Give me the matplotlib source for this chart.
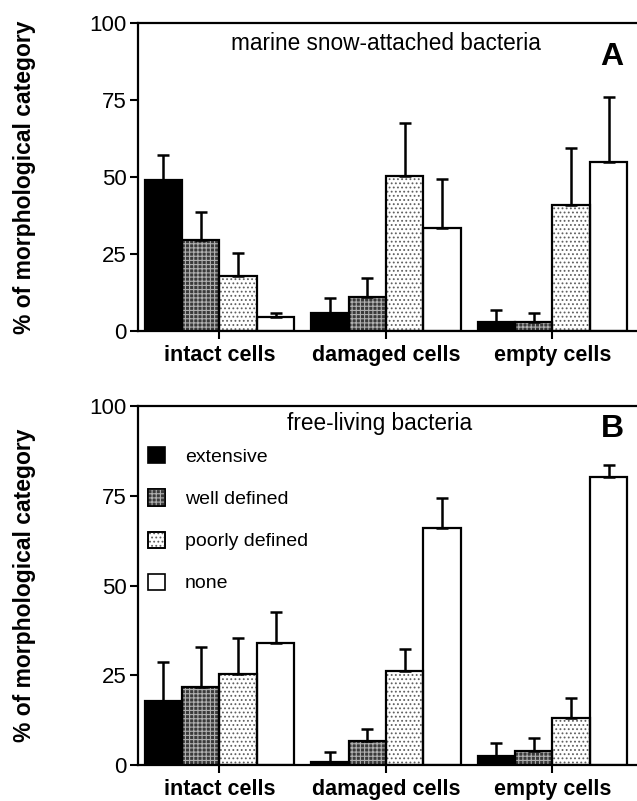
import matplotlib
matplotlib.use("Agg")
import matplotlib.pyplot as plt
from matplotlib.patches import Patch
import numpy as np

plt.rcParams['font.family'] = ['Liberation Sans', 'DejaVu Sans']
plt.rcParams['hatch.linewidth'] = 0.8

# ---- data ----
groups = ["intact cells", "damaged cells", "empty cells"]
series = ["extensive", "well defined", "poorly defined", "none"]

# Panel A: marine snow-attached bacteria (mean, upper SD)
a_extensive = [49.0, 5.8, 2.8]
a_well = [29.5, 11.1, 2.8]
a_poorly = [18.0, 50.3, 40.9]
a_none = [4.6, 33.5, 54.8]
a_extensive_sd = [8.0, 5.0, 4.0]
a_well_sd = [9.2, 6.2, 3.0]
a_poorly_sd = [7.3, 17.3, 18.4]
a_none_sd = [1.4, 15.9, 21.2]

# Panel B: free-living bacteria
b_extensive = [17.9, 0.8, 2.5]
b_well = [21.8, 6.7, 3.9]
b_poorly = [25.3, 26.2, 13.0]
b_none = [33.9, 66.0, 80.1]
b_extensive_sd = [10.9, 2.9, 3.6]
b_well_sd = [11.2, 3.2, 3.6]
b_poorly_sd = [10.0, 6.0, 5.7]
b_none_sd = [8.8, 8.5, 3.5]

yticks = [0, 25, 50, 75, 100]

# ---- styles ----
styles = [
    dict(face="black", hatch=None, hcol=None),
    dict(face="#3a3a3a", hatch="++++", hcol="#b0b0b0"),
    dict(face="white", hatch="....", hcol="#606060"),
    dict(face="white", hatch=None, hcol=None),
]

W, H = 637, 801
fig = plt.figure(figsize=(W / 100, H / 100), dpi=100)

def px_axes(left, top, right, bottom):
    return fig.add_axes([left / W, 1 - bottom / H, (right - left) / W, (bottom - top) / H])

axA = px_axes(137.5, 23, 637, 331)
axB = px_axes(137.5, 406, 637, 765)

group_x = np.array([0.0, 4.45, 8.9])
offsets = [-1.5, -0.5, 0.5, 1.5]

def draw(ax, means, sds):
    for j, (m, s) in enumerate(zip(means, sds)):
        xs = group_x + offsets[j]
        st = styles[j]
        ax.bar(xs, m, width=1.0, color=st["face"], linewidth=0, zorder=2)
        if st["hatch"]:
            ax.bar(xs, m, width=1.0, fill=False, hatch=st["hatch"],
                   edgecolor=st["hcol"], linewidth=0, zorder=3)
        ax.bar(xs, m, width=1.0, fill=False, edgecolor="black", linewidth=1.6, zorder=4)
        ax.errorbar(xs, m, yerr=[np.zeros(len(s)), s], fmt="none", ecolor="black",
                    elinewidth=1.8, capsize=4.5, capthick=1.8, zorder=5)
    ax.set_xlim(-2.19, 11.16)
    ax.set_ylim(0, 100)
    ax.set_yticks(yticks)
    ax.set_yticklabels([str(t) for t in yticks], fontsize=16)
    ax.set_xticks(group_x)
    ax.set_xticklabels(groups, fontsize=15.5, fontweight="bold")
    ax.tick_params(axis="y", direction="out", length=6, width=1.5, pad=2)
    ax.tick_params(axis="x", direction="out", length=6, width=1.5, pad=4)
    ax.spines["right"].set_visible(False)
    for sp in ["left", "bottom", "top"]:
        ax.spines[sp].set_linewidth(1.6)

draw(axA, [a_extensive, a_well, a_poorly, a_none],
     [a_extensive_sd, a_well_sd, a_poorly_sd, a_none_sd])
draw(axB, [b_extensive, b_well, b_poorly, b_none],
     [b_extensive_sd, b_well_sd, b_poorly_sd, b_none_sd])

axA.text(0.497, 0.935, "marine snow-attached bacteria", transform=axA.transAxes,
         ha="center", va="center", fontsize=16.3)
axA.text(0.95, 0.89, "A", transform=axA.transAxes, ha="center", va="center",
         fontsize=23, fontweight="bold")
axB.text(0.485, 0.95, "free-living bacteria", transform=axB.transAxes,
         ha="center", va="center", fontsize=16.3)
axB.text(0.95, 0.936, "B", transform=axB.transAxes, ha="center", va="center",
         fontsize=23, fontweight="bold")

# legend
handles = []
for st in styles:
    base = Patch(facecolor=st["face"], edgecolor="black", linewidth=1.2)
    if st["hatch"]:
        hp = Patch(fill=False, hatch=st["hatch"], edgecolor=st["hcol"], linewidth=0)
        outline = Patch(fill=False, edgecolor="black", linewidth=1.2)
        handles.append((base, hp, outline))
    else:
        handles.append(base)
axB.legend(handles, series, loc="upper left", bbox_to_anchor=(0.021, 0.885),
           frameon=False, fontsize=14, handlelength=0.9, handleheight=0.9,
           handletextpad=1.0, labelspacing=1.2, borderpad=0, borderaxespad=0)

for ax, (t, b) in [(axA, (23, 331)), (axB, (406, 765))]:
    fig.text(25 / W, 1 - (t + b) / 2 / H, "% of morphological category", rotation=90,
             ha="center", va="center", fontsize=16.5, fontweight="bold")

fig.savefig("out.png", dpi=100)
